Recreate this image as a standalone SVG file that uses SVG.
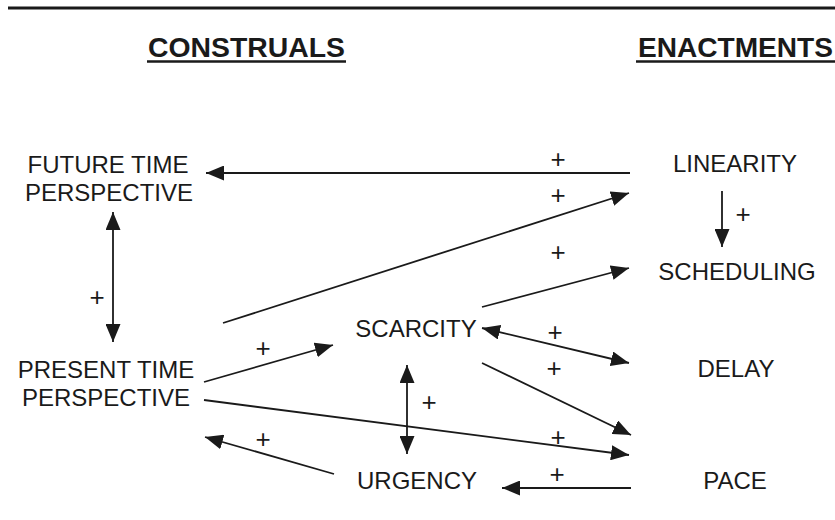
<svg xmlns="http://www.w3.org/2000/svg" width="835" height="520" viewBox="0 0 835 520">
  <style>
    .lbl { font-family: "Liberation Sans", Arial, sans-serif; font-size: 24px; fill: #1a1a1a; text-anchor: middle; }
    .hdr { font-family: "Liberation Sans", Arial, sans-serif; font-size: 27px; font-weight: bold; fill: #1a1a1a; }
    .plus { font-family: "Liberation Sans", Arial, sans-serif; font-size: 26px; fill: #1a1a1a; text-anchor: middle; }
    .edge { stroke: #1a1a1a; stroke-width: 1.8; fill: none; }
    .one { marker-end: url(#ah); }
    .two { marker-start: url(#ah); marker-end: url(#ah); }
  </style>
  <defs>
    <marker id="ah" markerUnits="userSpaceOnUse" markerWidth="18" markerHeight="15" refX="18" refY="7.5" orient="auto-start-reverse">
      <path d="M0,0 L18,7.5 L0,15 z" fill="#1a1a1a"/>
    </marker>
  </defs>
  <rect width="835" height="520" fill="#ffffff"/>
  <line x1="8" y1="8" x2="835" y2="8" stroke="#1a1a1a" stroke-width="3"/>

  <g id="header-construals">
    <text class="hdr" x="148" y="57" textLength="197" lengthAdjust="spacingAndGlyphs">CONSTRUALS</text>
    <line x1="147" y1="61.5" x2="346" y2="61.5" stroke="#1a1a1a" stroke-width="2.5"/>
  </g>
  <g id="header-enactments">
    <text class="hdr" x="638" y="57" textLength="195" lengthAdjust="spacingAndGlyphs">ENACTMENTS</text>
    <line x1="636" y1="61.5" x2="835" y2="61.5" stroke="#1a1a1a" stroke-width="2.5"/>
  </g>

  <g id="future-time-perspective">
    <text class="lbl" x="108" y="173">FUTURE TIME</text>
    <text class="lbl" x="109" y="201">PERSPECTIVE</text>
  </g>
  <g id="present-time-perspective">
    <text class="lbl" x="106" y="378">PRESENT TIME</text>
    <text class="lbl" x="106" y="406">PERSPECTIVE</text>
  </g>
  <g id="scarcity"><text class="lbl" x="416" y="337">SCARCITY</text></g>
  <g id="urgency"><text class="lbl" x="417" y="489">URGENCY</text></g>
  <g id="linearity"><text class="lbl" x="735" y="172">LINEARITY</text></g>
  <g id="scheduling"><text class="lbl" x="737" y="280">SCHEDULING</text></g>
  <g id="delay"><text class="lbl" x="736" y="377">DELAY</text></g>
  <g id="pace"><text class="lbl" x="735" y="489">PACE</text></g>

  <g id="connectors">
    <line class="edge one" x1="630" y1="173" x2="206" y2="173"/>
    <line class="edge one" x1="223" y1="323" x2="629" y2="193"/>
    <line class="edge one" x1="722" y1="191" x2="722" y2="247"/>
    <line class="edge one" x1="482" y1="307" x2="629" y2="268"/>
    <line class="edge two" x1="113" y1="212" x2="113" y2="342"/>
    <line class="edge one" x1="204" y1="382" x2="333" y2="345"/>
    <line class="edge two" x1="482" y1="328" x2="629" y2="363"/>
    <line class="edge one" x1="482" y1="363" x2="631" y2="435"/>
    <line class="edge one" x1="204" y1="400" x2="629" y2="455"/>
    <line class="edge one" x1="334" y1="474" x2="205" y2="437"/>
    <line class="edge two" x1="407" y1="365" x2="407" y2="454"/>
    <line class="edge one" x1="631" y1="488" x2="502" y2="488"/>

    <text class="plus" x="558" y="168">+</text>
    <text class="plus" x="558" y="204">+</text>
    <text class="plus" x="743" y="223">+</text>
    <text class="plus" x="558" y="261">+</text>
    <text class="plus" x="97" y="306">+</text>
    <text class="plus" x="555" y="341">+</text>
    <text class="plus" x="263" y="357">+</text>
    <text class="plus" x="554" y="377">+</text>
    <text class="plus" x="429" y="411">+</text>
    <text class="plus" x="263" y="448">+</text>
    <text class="plus" x="558" y="446">+</text>
    <text class="plus" x="557" y="483">+</text>
  </g>
</svg>
